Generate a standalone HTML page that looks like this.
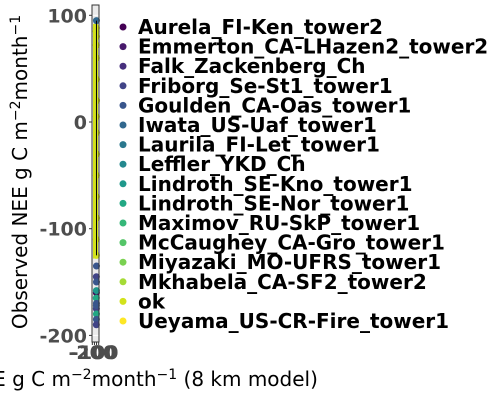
<!DOCTYPE html>
<html><head><meta charset="utf-8"><style>
html,body{margin:0;padding:0;background:#fff;width:500px;height:400px;overflow:hidden}
svg text{font-family:"DejaVu Sans","Liberation Sans",sans-serif}
</style></head><body>
<svg id="chart" width="500" height="400" xmlns="http://www.w3.org/2000/svg">
<g id="plot"></g>
<g id="axes"></g>
<g id="legend"></g>
<text x="96" y="386" text-anchor="middle" font-size="20" fill="#000">Modeled NEE g C m<tspan dy="-7" font-size="14">−2</tspan><tspan dy="7">month</tspan><tspan dy="-7" font-size="14">−1</tspan><tspan dy="7"> (8 km model)</tspan></text>
<text transform="translate(27,172) rotate(-90)" text-anchor="middle" font-size="20" fill="#000">Observed NEE g C m<tspan dy="-7" font-size="14">−2</tspan><tspan dy="7">month</tspan><tspan dy="-7" font-size="14">−1</tspan></text>
</svg>
<script>
const sites=["Aurela_FI-Ken_tower2","Emmerton_CA-LHazen2_tower2","Falk_Zackenberg_Ch","Friborg_Se-St1_tower1","Goulden_CA-Oas_tower1","Iwata_US-Uaf_tower1","Laurila_FI-Let_tower1","Leffler_YKD_Ch","Lindroth_SE-Kno_tower1","Lindroth_SE-Nor_tower1","Maximov_RU-SkP_tower1","McCaughey_CA-Gro_tower1","Miyazaki_MO-UFRS_tower1","Mkhabela_CA-SF2_tower2","ok","Ueyama_US-CR-Fire_tower1"];
const colors=["#440154","#481a6c","#472f7d","#414487","#39568c","#31688e","#2a788e","#23888e","#1f988b","#22a884","#35b779","#54c568","#7ad151","#a5db36","#d2e21b","#fde725"];
const yTicks=[100,0,-100,-200];
const xTicks=[-200,-100,0,100];
const obsY=[95,88,85,80,72,60,40,20,5,-10,-30,-50,-70,-90,-110,-125,-135,-145,-150,-160,-165,-170,-175,-180,-185,-190,-158,-172];
const modX=[-5,-10,-20,-8,-15,-12,-5,-2,-10,-6,-4,-12,-8,-3,-15,-6,-5,-10,-4,-8,-12,-6,-9,-5,-7,-11,-6,-9];
const siteIdx=[5,14,14,14,14,14,14,14,14,14,14,14,14,14,14,14,4,3,4,0,9,4,3,9,4,3,8,4];
const NS="http://www.w3.org/2000/svg";
const px0=92,px1=99,py0=5,py1=342;
const xs=v=>px0+(v+215)/330*(px1-px0);
const ys=v=>122-v*1.067;
const plot=document.getElementById('plot'),axes=document.getElementById('axes'),leg=document.getElementById('legend');
function mk(t,a,p){const e=document.createElementNS(NS,t);for(const k in a)e.setAttribute(k,a[k]);p.appendChild(e);return e;}
const bg=mk('rect',{x:px0,y:py0,width:px1-px0,height:py1-py0,fill:'#ebebeb'},plot);


yTicks.forEach(t=>{const l=mk('line',{x1:px0,x2:px1,y1:ys(t),y2:ys(t),stroke:'#fff','stroke-width':1},plot);

});
const band=mk('rect',{x:px0+1,y:ys(92),width:px1-px0-2,height:ys(-128)-ys(92),fill:'#d2e21b'},plot);


obsY.forEach((v,i)=>{const c=mk('circle',{cx:xs(modX[i]),cy:ys(v),r:3.5,fill:colors[siteIdx[i]]},plot);

});
const ln=mk('line',{x1:xs(-5),x2:xs(-3),y1:ys(95),y2:ys(-125),stroke:'#000','stroke-width':1},plot);


const fr=mk('rect',{x:px0,y:py0,width:px1-px0,height:py1-py0,fill:'none',stroke:'#333','stroke-width':1},plot);


yTicks.forEach(t=>{
 const tk=mk('line',{x1:px0-3,x2:px0,y1:ys(t),y2:ys(t),stroke:'#333'},axes);
 
 
 const tx=mk('text',{x:px0-5,y:ys(t)+7,'text-anchor':'end','font-size':19,'font-weight':'bold',fill:'#4d4d4d'},axes);
 tx.textContent=t;
 
 });
xTicks.forEach(t=>{
 const tk=mk('line',{x1:xs(t),x2:xs(t),y1:py1,y2:py1+3,stroke:'#333'},axes);
 
 
 const tx=mk('text',{x:xs(t),y:359,'text-anchor':'middle','font-size':19,'font-weight':'bold',fill:'#4d4d4d'},axes);
 tx.textContent=t;
 
 });
sites.forEach((s,i)=>{
 const y=27+i*19.6;
 const c=mk('circle',{cx:123,cy:y,r:3.5,fill:colors[i]},leg);
 
 
 const t=mk('text',{x:138,y:y+7,'font-size':20,'font-weight':'bold',fill:'#000'},leg);
 t.textContent=s;
 
 });
</script>
</body></html>
